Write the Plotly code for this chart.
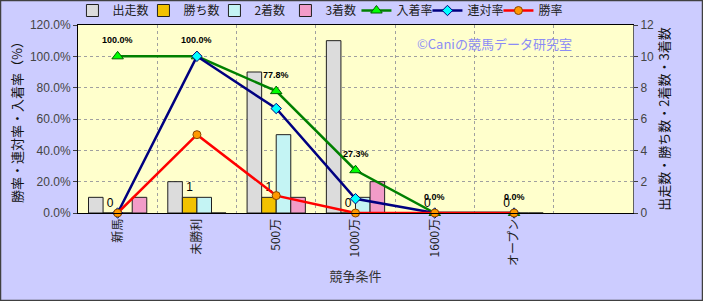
import plotly.graph_objects as go

categories = ["新馬", "未勝利", "500万", "1000万", "1600万", "オープン", " "]
starts = [1, 2, 9, 11, 0, 0, None]
wins = [0, 1, 1, 0, 0, 0, None]
seconds = [0, 1, 5, 1, 0, 0, None]
thirds = [1, 0, 1, 2, 0, 0, None]
place_rate = [1.0, 1.0, 0.778, 0.273, 0.0, 0.0, None]
quinella_rate = [0.0, 1.0, 0.667, 0.091, 0.0, 0.0, None]
win_rate = [0.0, 0.5, 0.111, 0.0, 0.0, 0.0, None]

FONT = "Liberation Sans, Noto Sans CJK JP, sans-serif"

fig = go.Figure()

bar_specs = [
    ("出走数", starts, "#DCDCDC", None),
    ("勝ち数", wins, "#F2C200", wins),
    ("2着数", seconds, "#C4F4F4", None),
    ("3着数", thirds, "#F29CC8", None),
]
for name, vals, color, labels in bar_specs:
    fig.add_trace(go.Bar(
        x=categories, y=vals, name=name, yaxis="y",
        marker=dict(color=color, line=dict(color="#202020", width=1)),
        text=[str(v) if v is not None else "" for v in labels] if labels else None,
        textposition="outside" if labels else None,
        textfont=dict(size=12, color="#000000", family=FONT),
        cliponaxis=False,
    ))

line_specs = [
    ("入着率", place_rate, "#008000", "triangle-up", "#00FF00", "#006000", 10),
    ("連対率", quinella_rate, "#000080", "diamond", "#00FFFF", "#000080", 8),
    ("勝率", win_rate, "#FF0000", "circle", "#FF9900", "#884400", 8),
]
for name, vals, lc, sym, mc, mlc, ms in line_specs:
    fig.add_trace(go.Scatter(
        x=categories, y=vals, name=name, yaxis="y2", mode="lines+markers",
        line=dict(color=lc, width=2.5),
        marker=dict(symbol=sym, color=mc, size=ms, line=dict(color=mlc, width=1)),
        cliponaxis=False,
    ))

annotations = []
for c, v in zip(categories, place_rate):
    if v is None:
        continue
    annotations.append(dict(
        x=c, y=v, xref="x", yref="y2", text=f"{v*100:.1f}%", showarrow=False,
        yshift=16, font=dict(size=9, color="#000000", family=FONT, weight="bold"),
    ))
annotations.append(dict(
    x=0.751, y=0.904, xref="paper", yref="paper", xanchor="center", yanchor="middle",
    text="©Caniの競馬データ研究室",
    showarrow=False, font=dict(size=13, color="#8C8CF5", family="Noto Sans CJK JP"),
))

L, R, T, B = 78, 70, 25, 88
W, H = 703, 301
pw, ph = W - L - R, H - T - B

fig.update_layout(
    width=W, height=H,
    margin=dict(l=L, r=R, t=T, b=B, autoexpand=False),
    paper_bgcolor="#CCCCFF", plot_bgcolor="#FFFFCC",
    font=dict(family=FONT, size=12, color="#333333"),
    barmode="group", bargap=0.265, bargroupgap=0,
    showlegend=True,
    legend=dict(orientation="h", x=-0.01, xanchor="left", y=1.0, yanchor="bottom",
                font=dict(size=12, color="#222222", family="Noto Sans CJK JP"),
                bgcolor="rgba(0,0,0,0)", entrywidth=26, itemwidth=30,
                traceorder="normal", tracegroupgap=0,
                borderwidth=0),
    xaxis=dict(
        type="category", categoryorder="array", categoryarray=categories,
        range=[-0.5, len(categories) - 0.5],
        tickson="boundaries", ticks="", tickangle=-90,
        showgrid=True, gridcolor="#A0A0A0", griddash="dot", gridwidth=1,
        showline=True, linecolor="#000000", linewidth=1, mirror=True,
        tickfont=dict(size=12, color="#222222", family="Noto Sans CJK JP"),
        title=dict(text="競争条件", standoff=6,
                   font=dict(size=13, color="#333333", family="Noto Sans CJK JP")),
        automargin=False,
    ),
    yaxis=dict(
        side="right", range=[0, 12], dtick=2,
        showgrid=True, gridcolor="#A0A0A0", griddash="dot", gridwidth=1,
        zeroline=False, showline=True, linecolor="#606060", linewidth=1,
        ticks="outside", ticklen=4, tickcolor="#404040",
        tickfont=dict(size=12, color="#444444"),
        title=dict(text="出走数・勝ち数・2着数・3着数", standoff=0,
                   font=dict(size=13, color="#111111", family="Noto Sans CJK JP")),
        automargin=False,
    ),
    yaxis2=dict(
        overlaying="y", side="left", range=[0, 1.2], dtick=0.2, tickformat=".1%",
        showgrid=False, zeroline=False,
        showline=True, linecolor="#000000", linewidth=1,
        ticks="outside", ticklen=4, tickcolor="#404040",
        tickfont=dict(size=12, color="#444444"),
        title=dict(text="勝率・連対率・入着率（%）", standoff=4,
                   font=dict(size=13, color="#111111", family="Noto Sans CJK JP")),
        automargin=False,
    ),
    annotations=annotations,
    shapes=[dict(type="rect", xref="paper", yref="paper", layer="above",
                 x0=-L / pw + 0.5 / pw, x1=1 + (R - 0.5) / pw,
                 y0=-B / ph + 0.5 / ph, y1=1 + (T - 0.5) / ph,
                 line=dict(color="#404040", width=1.5))],
)

fig.write_html("out.html")
